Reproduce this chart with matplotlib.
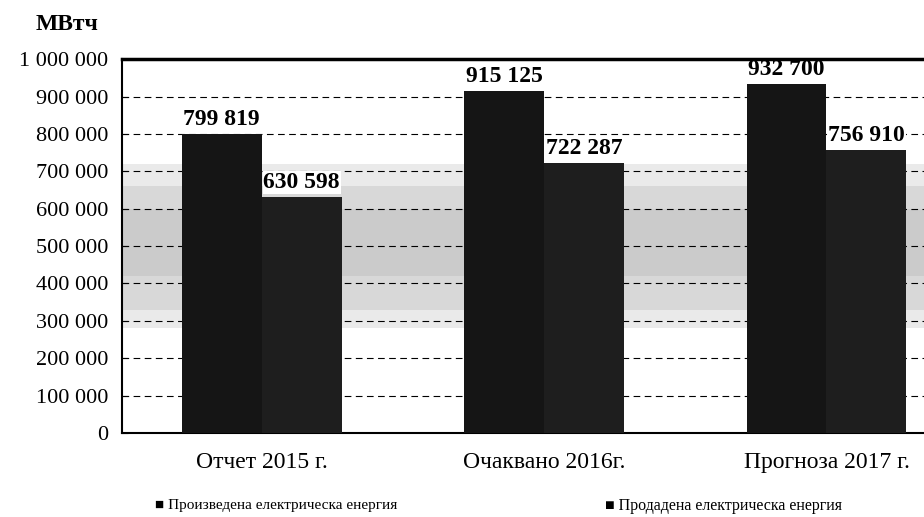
import matplotlib.pyplot as plt
import numpy as np

categories = ["Отчет 2015 г.", "Очаквано 2016г.", "Прогноза 2017 г."]
produced = [799819, 915125, 932700]
sold = [630598, 722287, 756910]
labels_produced = ["799 819", "915 125", "932 700"]
labels_sold = ["630 598", "722 287", "756 910"]
series_names = ["Произведена електрическа енергия", "Продадена електрическа енергия"]
yticks = np.arange(0, 1000001, 100000)

plt.rcParams["font.family"] = ["Liberation Serif", "DejaVu Serif"]

fig = plt.figure(figsize=(9.24, 5.17), dpi=100)
ax = fig.add_axes([0.132, 0.1625, 0.9, 0.723])

# grey noisy band of the scan, approximated as soft shading
for lo, hi, a in [(280000, 720000, 0.15), (330000, 660000, 0.15), (420000, 600000, 0.12)]:
    ax.axhspan(lo, hi, color="0.45", alpha=a, lw=0, zorder=0)

x = np.arange(len(categories))
w = 0.283
ax.bar(x - w / 2, produced, w, color="#151515", zorder=3)
ax.bar(x + w / 2, sold, w, color="#1e1e1e", zorder=3)

box = dict(facecolor="white", edgecolor="none", pad=0.5)
for xi, v, t in zip(x - w / 2, produced, labels_produced):
    ax.text(xi, v + 11000, t, ha="center", va="bottom", fontsize=17,
            fontweight="bold", bbox=box, zorder=2.4)
for xi, v, t in zip(x + w / 2, sold, labels_sold):
    ax.text(xi, v + 11000, t, ha="center", va="bottom", fontsize=17,
            fontweight="bold", bbox=box, zorder=2.4)

ax.set_ylim(0, 1000000)
ax.set_xlim(-0.495, 2.45)
ax.set_yticks(yticks)
ax.set_yticklabels([f"{v:,}".replace(",", " ") for v in yticks], fontsize=16)
ax.yaxis.grid(True, linestyle=(0, (6, 4)), color="black", lw=0.8, zorder=1)
ax.set_xticks(x)
ax.set_xticklabels(categories, fontsize=17)
ax.tick_params(axis="x", length=0, pad=14)
ax.tick_params(axis="y", length=4, direction="in", pad=10)
ax.spines["right"].set_visible(False)
ax.spines["top"].set_linewidth(2.5)
ax.spines["left"].set_linewidth(1.5)
ax.spines["bottom"].set_linewidth(1.5)

fig.text(0.038, 0.952, "МВтч", fontsize=17, fontweight="bold", va="center")

fig.text(0.168, 0.022, "■ " + series_names[0], fontsize=11, va="center")
fig.text(0.655, 0.022, "■ " + series_names[1], fontsize=11.5, va="center")

fig.savefig("out.png", dpi=100)
